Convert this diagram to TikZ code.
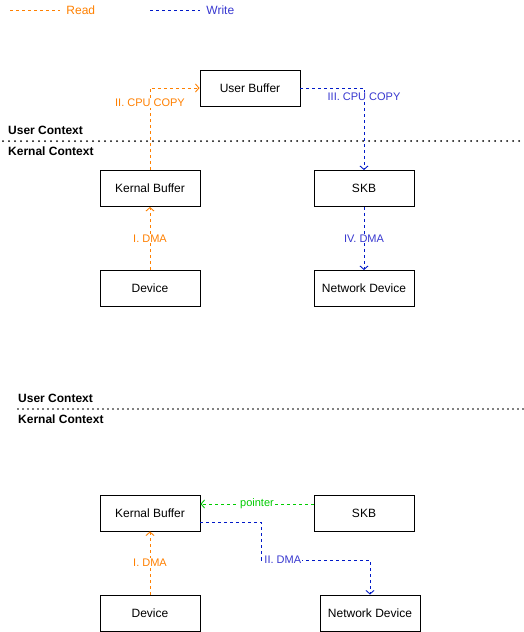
\documentclass[tikz,border=0pt]{standalone}
\usepackage{fontspec}
\setmainfont{Liberation Sans}
\usetikzlibrary{arrows.meta}
\definecolor{rd}{HTML}{FF8000}
\definecolor{wr}{HTML}{0019C8}
\definecolor{wrtext}{HTML}{3838D0}
\definecolor{ptr}{HTML}{00CC00}
\begin{document}
\begin{tikzpicture}[x=1pt,y=-1pt,>={Straight Barb[length=3.5pt,width=8pt]},
	buf/.style={draw,line width=0.9pt,minimum width=100pt,minimum height=36pt,inner sep=0pt,font=\fontsize{12}{14}\selectfont},
	rdline/.style={rd,line width=0.9pt,dash pattern=on 3pt off 3pt},
	wrline/.style={wr,line width=0.9pt,dash pattern=on 3pt off 3pt},
	ptrline/.style={ptr,line width=0.9pt,dash pattern=on 3pt off 3pt},
	lbl/.style={fill=white,inner sep=1pt,font=\fontsize{11}{13}\selectfont},
	ctx/.style={anchor=west,inner sep=0pt,font=\bfseries\fontsize{12}{14}\selectfont},
	sep/.style={line cap=round,dash pattern=on 0pt off 6pt}]
		\useasboundingbox (0,0) rectangle (523,632);
		\coordinate (rdA) at (10,10); \coordinate (rdB) at (60,10);
		\coordinate (wrA) at (150,10); \coordinate (wrB) at (200,10);
		\draw[rdline] (rdA) -- (rdB) node[right=6pt,inner sep=0pt,text=rd,font=\fontsize{12}{14}\selectfont] {Read};
		\draw[wrline] (wrA) -- (wrB) node[right=6pt,inner sep=0pt,text=wrtext,font=\fontsize{12}{14}\selectfont] {Write};
		\foreach \y/\x/\tx/\w/\s/\n in {141/3/8/2pt/6pt/top,409/18/18/1.7pt/5pt/bot}{
			\coordinate (sep\n) at (\x,\y); \coordinate (sepe\n) at (523,\y);
			\draw[sep,line width=\w,dash pattern=on 0pt off \s] (sep\n) -- (sepe\n);
			\node[ctx] (uc\n) at (\tx,\y-11) {User Context};
			\node[ctx] (kc\n) at (\tx,\y+10) {Kernal Context};}
		\node[buf] (ubuf) at (250,88) {User Buffer};
		\node[buf] (kbuf) at (150,188.5) {Kernal Buffer};
		\node[buf] (skb) at (364,188.5) {SKB};
		\node[buf] (dev) at (150,288.5) {Device};
		\node[buf] (ndev) at (364,288.5) {Network Device};
		\draw[rdline,->] (dev) -- node[lbl,text=rd] {I. DMA} (kbuf);
		\draw[rdline,->] (kbuf.north) |- node[lbl,text=rd,pos=0.41] {II. CPU COPY} (ubuf.west);
		\draw[wrline,->] (ubuf.east) -| node[lbl,text=wrtext,pos=0.555] {III. CPU COPY} (skb.north);
		\draw[wrline,->] (skb) -- node[lbl,text=wrtext] {IV. DMA} (ndev);
		\node[buf] (kbufb) at (150,513) {Kernal Buffer};
		\node[buf] (skbb) at (364,513) {SKB};
		\node[buf] (devb) at (150,613) {Device};
		\node[buf] (ndevb) at (370,613) {Network Device};
		\coordinate (bend) at (261,560);
		\draw[rdline,->] (devb) -- node[lbl,text=rd] {I. DMA} (kbufb);
		\draw[ptrline,->] ([yshift=9pt]skbb.west) -- node[lbl,text=ptr] {pointer} ([yshift=9pt]kbufb.east);
		\draw[wrline,->] ([yshift=-9pt]kbufb.east) -| (bend) -| node[lbl,text=wrtext,pos=0.1] {II. DMA} (ndevb.north);
	\end{tikzpicture}
\end{document}
